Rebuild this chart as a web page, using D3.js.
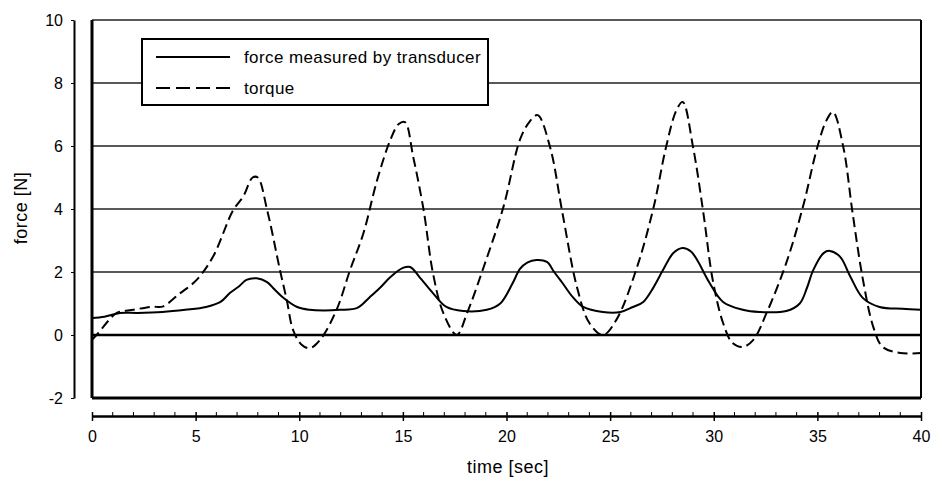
<!DOCTYPE html>
<html>
<head>
<meta charset="utf-8">
<script src="https://cdn.jsdelivr.net/npm/d3@7"></script>
<style>
  body { margin: 0; background: #fff; }
  svg { display: block; font-family: "Liberation Sans", Arial, sans-serif; }
  .tick text { font-size: 16px; fill: #000; }
</style>
</head>
<body>
<svg id="chart" width="942" height="482"></svg>
<script>
// values
var forceT = [0, 0.6, 1.35, 2.2, 3.4, 4.5, 5.5, 6.2, 6.65, 7.1, 7.45, 7.95, 8.45, 8.8, 9.2, 9.9, 10.5, 11.2, 11.95, 12.8, 13.4, 13.9, 14.4, 15.0, 15.35, 15.8, 16.45, 17.1, 17.9, 19.05, 19.7, 20.3, 20.65, 21.0, 21.45, 21.95, 22.3, 22.7, 23.2, 23.7, 24.65, 25.5, 26.1, 26.6, 27.1, 27.55, 28.05, 28.5, 28.9, 29.2, 29.8, 30.45, 31.4, 32.2, 33.5, 34.15, 34.5, 34.8, 35.3, 35.6, 36.1, 36.6, 37.2, 38.0, 39.1, 40];
var forceV = [0.54, 0.58, 0.7, 0.7, 0.73, 0.8, 0.89, 1.05, 1.33, 1.55, 1.75, 1.8, 1.68, 1.45, 1.2, 0.89, 0.8, 0.78, 0.8, 0.86, 1.2, 1.5, 1.84, 2.13, 2.16, 1.84, 1.33, 0.89, 0.76, 0.8, 1.0, 1.65, 2.1, 2.3, 2.38, 2.32, 2.0, 1.65, 1.2, 0.89, 0.73, 0.73, 0.89, 1.05, 1.52, 2.06, 2.6, 2.76, 2.65, 2.38, 1.65, 1.05, 0.8, 0.73, 0.76, 1.0, 1.5, 2.06, 2.6, 2.67, 2.48, 1.84, 1.17, 0.89, 0.83, 0.8];

var torqueT = [0, 0.3, 1.2, 2.0, 2.9, 3.4, 4.2, 5.05, 5.85, 6.8, 7.3, 7.75, 8.0, 8.45, 9.07, 9.4, 9.7, 10.1, 10.5, 11.0, 11.8, 12.45, 13.1, 13.75, 14.4, 14.8, 15.1, 15.5, 16.0, 16.45, 16.95, 17.6, 18.1, 18.9, 19.85, 20.65, 21.1, 21.5, 22.1, 22.7, 23.4, 24.0, 24.65, 25.3, 26.3, 27.1, 27.7, 28.2, 28.5, 29.0, 29.5, 29.95, 30.45, 30.9, 31.4, 31.9, 32.55, 33.5, 34.3, 35.0, 35.45, 35.75, 36.25, 36.7, 37.2, 37.7, 38.15, 39.0, 40];
var torqueV = [-0.15, 0.06, 0.7, 0.8, 0.9, 0.9, 1.3, 1.75, 2.5, 3.95, 4.4, 5.0, 5.0, 3.97, 2.06, 1.1, 0.16, -0.3, -0.42, -0.16, 0.8, 2.06, 3.24, 4.9, 6.2, 6.7, 6.76, 5.65, 3.97, 1.97, 0.7, 0.0, 0.7, 2.16, 4.06, 6.2, 6.76, 6.98, 5.97, 3.87, 1.52, 0.38, 0.0, 0.48, 2.16, 4.06, 5.97, 7.14, 7.4, 5.97, 3.87, 1.75, 0.38, -0.25, -0.38, -0.16, 0.7, 2.29, 4.06, 5.97, 6.83, 7.08, 5.97, 3.87, 1.75, 0.25, -0.38, -0.57, -0.57];

var yTicks = [-2, 0, 2, 4, 6, 8, 10];
var xTicks = [0, 5, 10, 15, 20, 25, 30, 35, 40];
var legendLabels = ["force measured by transducer", "torque"];

var svg = d3.select("#chart");

var plotLeft = 92, plotRight = 921, plotTop = 20, plotBottom = 398;

var x = d3.scaleLinear().domain([0, 40]).range([plotLeft, plotRight]);
var y = d3.scaleLinear().domain([-2, 10]).range([plotBottom, plotTop]);

// horizontal grid lines
svg.append("g")
	.selectAll("line")
	.data(yTicks.filter(function(d){ return d > 0; }))
	.enter().append("line")
	.attr("x1", plotLeft).attr("x2", plotRight)
	.attr("y1", function(d){ return y(d); })
	.attr("y2", function(d){ return y(d); })
	.attr("stroke", "#222")
	.attr("stroke-width", 1.3);

// zero line
svg.append("line")
	.attr("x1", plotLeft).attr("x2", plotRight)
	.attr("y1", y(0)).attr("y2", y(0))
	.attr("stroke", "#000")
	.attr("stroke-width", 2.5);

// plot frame
svg.append("line")
	.attr("x1", plotLeft).attr("x2", plotLeft)
	.attr("y1", plotTop).attr("y2", plotBottom)
	.attr("stroke", "#000").attr("stroke-width", 3);
svg.append("line")
	.attr("x1", plotLeft).attr("x2", plotRight)
	.attr("y1", plotBottom).attr("y2", plotBottom)
	.attr("stroke", "#000").attr("stroke-width", 3);
svg.append("line")
	.attr("x1", plotRight).attr("x2", plotRight)
	.attr("y1", plotTop).attr("y2", plotBottom)
	.attr("stroke", "#000").attr("stroke-width", 2);

// detached y axis
var yAxis = svg.append("g")
	.attr("transform", "translate(74,0)")
	.call(d3.axisLeft(y).tickValues(yTicks).tickFormat(String).tickSize(3).tickPadding(8).tickSizeOuter(0));
yAxis.select(".domain").attr("stroke-width", 2);

// detached x axis
var axisY = 416;
var xAxis = svg.append("g")
	.attr("transform", "translate(0," + axisY + ")")
	.call(d3.axisBottom(x).tickValues(xTicks).tickFormat(String).tickSize(5).tickPadding(10).tickSizeOuter(0));
xAxis.select(".domain").attr("stroke-width", 2.5);
xAxis.selectAll(".tick line").attr("y1", -4).attr("stroke-width", 1.5);

svg.append("g")
	.selectAll("line")
	.data(d3.range(0, 41).filter(function(d){ return d % 5 !== 0; }))
	.enter().append("line")
	.attr("x1", function(d){ return x(d); })
	.attr("x2", function(d){ return x(d); })
	.attr("y1", axisY - 4).attr("y2", axisY)
	.attr("stroke", "#000").attr("stroke-width", 1);

// axis titles
svg.append("text")
	.attr("x", 508).attr("y", 473)
	.attr("text-anchor", "middle")
	.attr("font-size", 18)
	.attr("letter-spacing", 0.5)
	.text("time [sec]");

svg.append("text")
	.attr("transform", "translate(27,208) rotate(-90)")
	.attr("text-anchor", "middle")
	.attr("font-size", 18)
	.attr("letter-spacing", 0.5)
	.text("force [N]");

// curves
var line = d3.line()
	.x(function(d){ return x(d[0]); })
	.y(function(d){ return y(d[1]); })
	.curve(d3.curveCatmullRom.alpha(0.5));

svg.append("path")
	.datum(d3.zip(forceT, forceV))
	.attr("d", line)
	.attr("fill", "none")
	.attr("stroke", "#000")
	.attr("stroke-width", 2);

svg.append("path")
	.datum(d3.zip(torqueT, torqueV))
	.attr("d", line)
	.attr("fill", "none")
	.attr("stroke", "#000")
	.attr("stroke-width", 2)
	.attr("stroke-dasharray", "10,5");

// legend
var legend = svg.append("g");
legend.append("rect")
	.attr("x", 142).attr("y", 39)
	.attr("width", 346).attr("height", 66)
	.attr("fill", "#fff")
	.attr("stroke", "#000")
	.attr("stroke-width", 2);

var items = legend.selectAll(".item")
	.data(legendLabels)
	.enter().append("g")
	.attr("class", "item")
	.attr("transform", function(d, i){ return "translate(0," + (57 + i * 31) + ")"; });

items.append("line")
	.attr("x1", 156).attr("x2", 230)
	.attr("stroke", "#000")
	.attr("stroke-width", 2)
	.attr("stroke-dasharray", function(d, i){ return i === 1 ? "14,6" : null; });

items.append("text")
	.attr("x", 244).attr("dy", "0.35em")
	.attr("font-size", 17)
	.attr("letter-spacing", 0.4)
	.text(function(d){ return d; });
</script>
</body>
</html>
